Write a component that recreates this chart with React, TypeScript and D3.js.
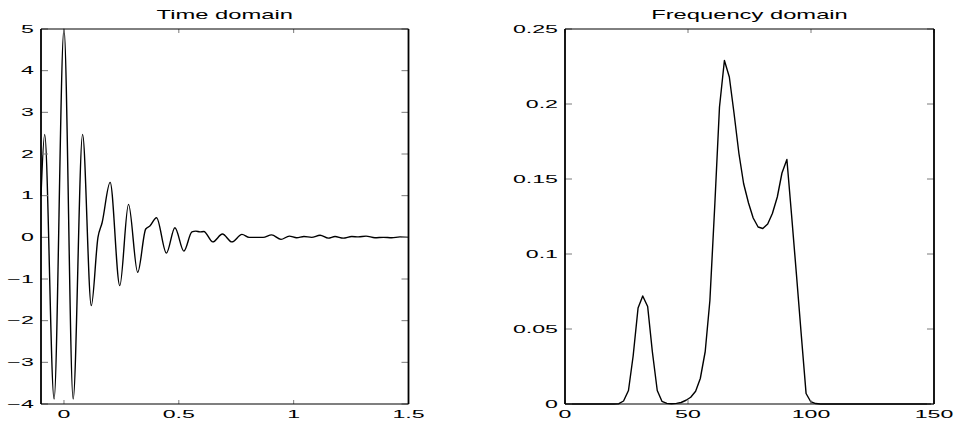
import React from 'react';
import * as d3 from 'd3';

// ---- Data ----
const timeT = [-0.100, -0.084, -0.043, 0.000, 0.040, 0.081, 0.119, 0.148, 0.166, 0.201, 0.243, 0.281, 0.321, 0.356, 0.374, 0.403, 0.446, 0.483, 0.522, 0.557, 0.574, 0.592, 0.609, 0.648, 0.690, 0.731, 0.775, 0.806, 0.839, 0.867, 0.904, 0.945, 0.981, 1.013, 1.045, 1.078, 1.115, 1.151, 1.180, 1.216, 1.253, 1.282, 1.315, 1.354, 1.391, 1.427, 1.463, 1.500];
const timeY = [1.0, 2.47, -3.88, 5.0, -3.88, 2.47, -1.64, 0.0, 0.35, 1.32, -1.16, 0.79, -0.84, 0.2, 0.27, 0.47, -0.38, 0.23, -0.33, 0.13, 0.15, 0.13, 0.14, -0.11, 0.08, -0.11, 0.07, 0, 0, 0, 0.06, -0.05, 0.03, -0.01, 0.02, 0, 0.05, -0.02, 0.02, -0.02, 0.02, 0.01, 0.03, -0.01, 0, -0.01, 0.01, 0];

const freqF = [0, 19.9, 21.9, 23.8, 25.8, 27.7, 29.7, 31.6, 33.6, 35.5, 37.5, 39.4, 41.4, 43.3, 45.3, 47.2, 49.2, 51.1, 53.1, 55.0, 57.0, 58.9, 60.9, 62.8, 64.8, 66.8, 68.7, 70.7, 72.6, 74.6, 76.5, 78.5, 80.4, 82.4, 84.3, 86.3, 88.2, 90.2, 92.1, 94.1, 96.0, 98.0, 99.9, 101.9, 103.8, 125.3, 148.8];
const freqV = [0, 0, 0.0002, 0.002, 0.009, 0.032, 0.064, 0.072, 0.065, 0.035, 0.009, 0.0018, 0.0004, 0.0002, 0.0004, 0.001, 0.0025, 0.0045, 0.0085, 0.017, 0.035, 0.069, 0.133, 0.198, 0.229, 0.218, 0.194, 0.167, 0.147, 0.134, 0.124, 0.118, 0.117, 0.120, 0.127, 0.138, 0.154, 0.163, 0.126, 0.086, 0.047, 0.007, 0.0015, 0.0003, 0, 0, 0];

const timeXTicks = [0, 0.5, 1, 1.5];
const timeYTicks = [-4, -3, -2, -1, 0, 1, 2, 3, 4, 5];
const freqXTicks = [0, 50, 100, 150];
const freqYTicks = [0, 0.05, 0.1, 0.15, 0.2, 0.25];

const titles = ['Time domain', 'Frequency domain'];

const FONT = '"Liberation Sans", Arial, Helvetica, sans-serif';
const TICK_FS = 10.3;
const TICK_SX = 2.25;
const TITLE_FS = 12.5;
const TITLE_SX = 1.9;

const fmt = (v: number) => {
  const s = String(+v.toFixed(4));
  return s.startsWith('-') ? '\u2212' + s.slice(1) : s;
};

type PanelProps = {
  x0: number; x1: number; y0: number; y1: number;
  xDomain: [number, number]; yDomain: [number, number];
  xTicks: number[]; yTicks: number[];
  xs: number[]; ys: number[];
  title: string; curve: d3.CurveFactory;
};

function Panel(p: PanelProps) {
  const x = d3.scaleLinear().domain(p.xDomain).range([p.x0, p.x1]);
  const y = d3.scaleLinear().domain(p.yDomain).range([p.y1, p.y0]);
  const pts = p.xs.map((v, i) => [v, p.ys[i]] as [number, number]);
  const line = d3.line<[number, number]>().x(d => x(d[0])).y(d => y(d[1])).curve(p.curve);
  const tickC = '#7a7a7a';
  return (
    <g>
      <path d={line(pts) || ''} fill="none" stroke="#000" strokeWidth={1.4} strokeLinejoin="round" />
      {p.xTicks.map(t => (
        <g key={'xt' + t}>
          <line x1={x(t)} x2={x(t)} y1={p.y1} y2={p.y1 - 4} stroke={tickC} strokeWidth={1} />
          <line x1={x(t)} x2={x(t)} y1={p.y0} y2={p.y0 + 4} stroke={tickC} strokeWidth={1} />
          <text transform={`translate(${x(t)},${p.y1 + 14}) scale(${TICK_SX},1)`} textAnchor="middle" fontSize={TICK_FS} fontFamily={FONT} fill="#000">{fmt(t)}</text>
        </g>
      ))}
      {p.yTicks.map(t => (
        <g key={'yt' + t}>
          <line x1={p.x0} x2={p.x0 + 7} y1={y(t)} y2={y(t)} stroke={tickC} strokeWidth={1} />
          <line x1={p.x1} x2={p.x1 - 7} y1={y(t)} y2={y(t)} stroke={tickC} strokeWidth={1} />
          <text transform={`translate(${p.x0 - 7},${y(t) + 3.7}) scale(${TICK_SX},1)`} textAnchor="end" fontSize={TICK_FS} fontFamily={FONT} fill="#000">{fmt(t)}</text>
        </g>
      ))}
      <line x1={p.x0} x2={p.x1} y1={p.y0} y2={p.y0} stroke="#000" strokeWidth={1} />
      <line x1={p.x0} x2={p.x1} y1={p.y1} y2={p.y1} stroke="#000" strokeWidth={1.2} />
      <line x1={p.x0} x2={p.x0} y1={p.y0} y2={p.y1} stroke="#000" strokeWidth={1.8} />
      <line x1={p.x1} x2={p.x1} y1={p.y0} y2={p.y1} stroke="#000" strokeWidth={1.8} />
      <text transform={`translate(${(p.x0 + p.x1) / 2},${p.y0 - 10.5}) scale(${TITLE_SX},1)`} textAnchor="middle" fontSize={TITLE_FS} fontFamily={FONT} fill="#000">{p.title}</text>
    </g>
  );
}

export default function App() {
  return (
    <svg width={955} height={425} style={{ position: 'absolute', left: 0, top: 0, background: '#fff' }}>
      <rect x={0} y={0} width={955} height={425} fill="#fff" />
      <Panel x0={41} x1={408.5} y0={29} y1={404} xDomain={[-0.1, 1.5]} yDomain={[-4, 5]}
        xTicks={timeXTicks} yTicks={timeYTicks} xs={timeT} ys={timeY} title={titles[0]} curve={d3.curveMonotoneX} />
      <Panel x0={565} x1={934} y0={29} y1={404} xDomain={[0, 150]} yDomain={[0, 0.25]}
        xTicks={freqXTicks} yTicks={freqYTicks} xs={freqF} ys={freqV} title={titles[1]} curve={d3.curveLinear} />
    </svg>
  );
}
